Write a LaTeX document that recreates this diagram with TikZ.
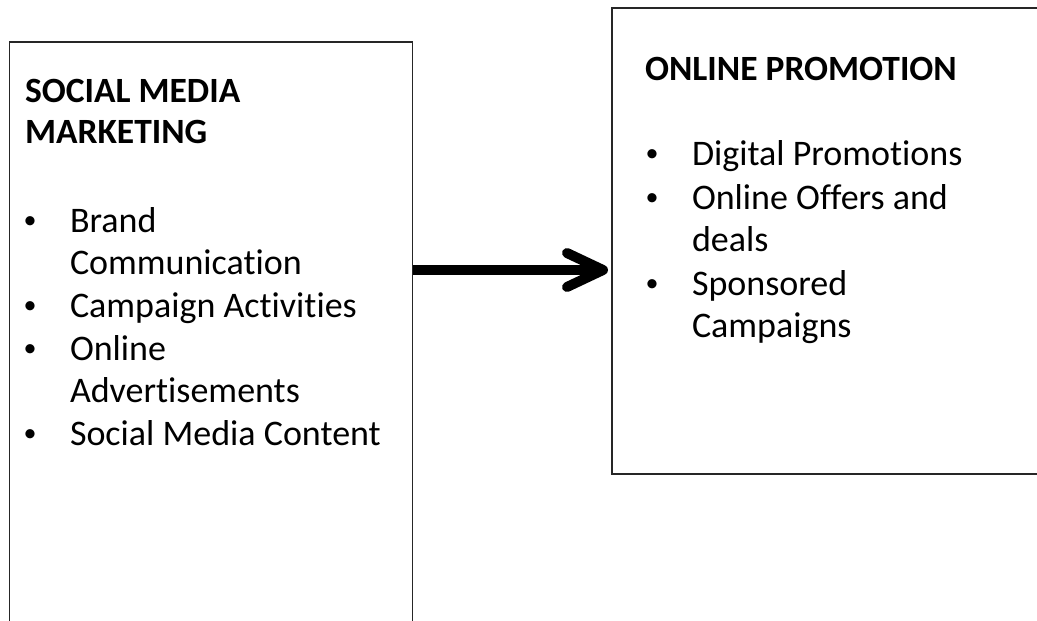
\documentclass[tikz,border=0pt]{standalone}
\usepackage{fontspec}
\setmainfont{Carlito}[Ligatures=NoCommon]
\usetikzlibrary{arrows.meta}
\begin{document}
\begin{tikzpicture}[x=1pt,y=-1pt,
  box/.style={draw=black!85, line width=1.5pt, inner sep=0pt, outer sep=0pt, anchor=north west},
  txt/.style={inner sep=0pt, outer sep=0pt, anchor=base west, font=\fontsize{36}{43}\selectfont},
  head/.style={txt, font=\fontsize{35.5}{43}\selectfont\bfseries},
  dot/.style={inner sep=0pt, outer sep=0pt, anchor=base, yshift=4pt, font=\fontsize{26}{30}\selectfont},
  flow/.style={line width=10pt, -{Straight Barb[length=36pt, width=34pt, round]}}]
  % page frame
  \useasboundingbox (0,0) rectangle (1037,621);
  \clip (0,0) rectangle (1037,621);
  \fill[white] (0,0) rectangle (1037,621);

  % the two boxes
  \node[box, minimum width=403pt, minimum height=620pt] (L) at (9.5,42) {};
  \node[box, minimum width=440pt, minimum height=466pt] (R) at (612,8) {};

  % left box content
  \node[head] (lh1) at (25,102) {SOCIAL MEDIA};
  \node[head] (lh2) at (25,143) {MARKETING};
  \node[dot] (lb1) at (30,232) {•};
  \node[txt] (lt1) at (70,232) {Brand};
  \node[txt] (lt1b) at (70,274) {Communication};
  \node[dot] (lb2) at (30,317) {•};
  \node[txt] (lt2) at (70,317) {Campaign Activities};
  \node[dot] (lb3) at (30,360) {•};
  \node[txt] (lt3) at (70,360) {Online};
  \node[txt] (lt3b) at (70,402) {Advertisements};
  \node[dot] (lb4) at (30,445) {•};
  \node[txt] (lt4) at (70,445) {Social Media Content};

  % right box content
  \node[head] (rh) at (645,80) {ONLINE PROMOTION};
  \node[dot] (rb1) at (652,165) {•};
  \node[txt] (rt1) at (692,165) {Digital Promotions};
  \node[dot] (rb2) at (652,209) {•};
  \node[txt] (rt2) at (692,209) {Online Offers and};
  \node[txt] (rt2b) at (692,251) {deals};
  \node[dot] (rb3) at (652,295) {•};
  \node[txt] (rt3) at (692,295) {Sponsored};
  \node[txt] (rt3b) at (692,337) {Campaigns};

  % connector
  \coordinate (ay) at (0,270);
  \draw[flow] (L.east |- ay) -- ([xshift=-4pt]R.west |- ay);
\end{tikzpicture}
\end{document}
